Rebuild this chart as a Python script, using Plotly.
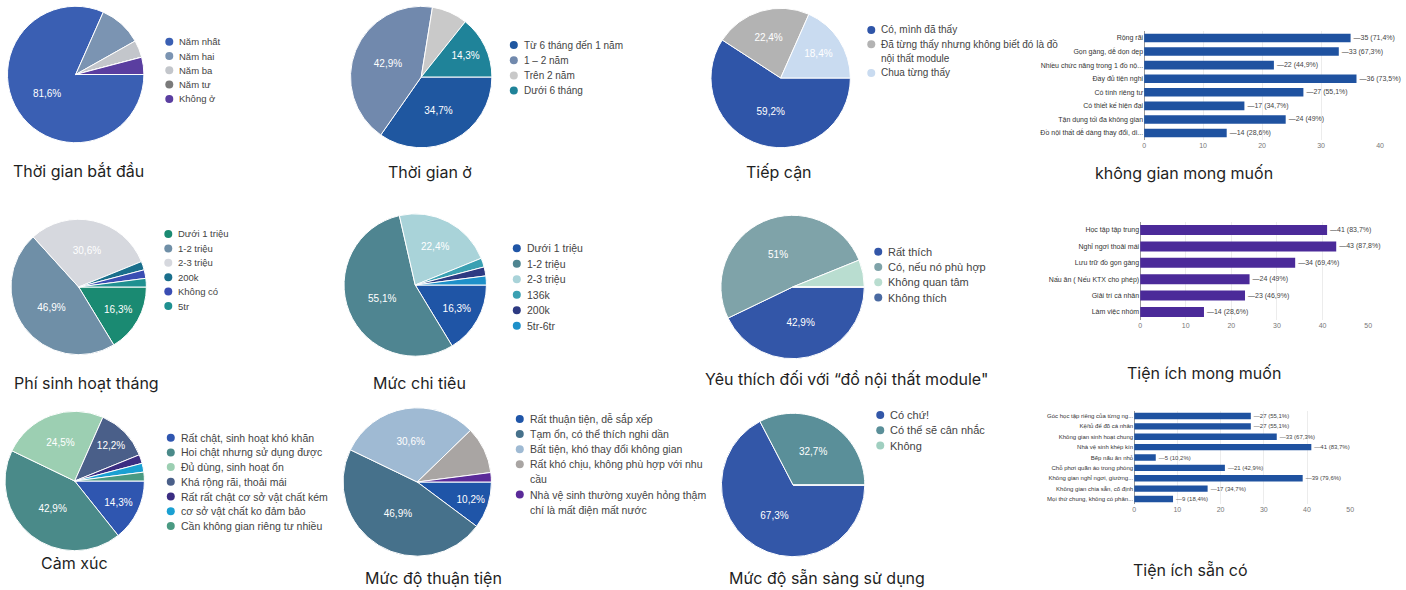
import textwrap
import plotly.graph_objects as go

W, H = 1406, 590
RESPONDENTS = 49

# ---------------- data ----------------
start_labels = ["Năm nhất", "Năm hai", "Năm ba", "Năm tư", "Không ở"]
start_counts = [40, 5, 2, 0, 2]

stay_labels = ["Từ 6 tháng đến 1 năm", "1 – 2 năm", "Trên 2 năm", "Dưới 6 tháng"]
stay_counts = [17, 21, 4, 7]

access_labels = ["Có, mình đã thấy",
                 "Đã từng thấy nhưng không biết đó là đồ nội thất module",
                 "Chua từng thấy"]
access_counts = [29, 11, 9]

fee_labels = ["Dưới 1 triệu", "1-2 triệu", "2-3 triệu", "200k", "Không có", "5tr"]
fee_counts = [8, 23, 15, 1, 1, 1]

spend_labels = ["Dưới 1 triệu", "1-2 triệu", "2-3 triệu", "136k", "200k", "5tr-6tr"]
spend_counts = [8, 27, 11, 1, 1, 1]

like_labels = ["Rất thích", "Có, nếu nó phù hợp", "Không quan tâm", "Không thích"]
like_counts = [21, 25, 3, 0]

feel_labels = ["Rất chật, sinh hoạt khó khăn", "Hoi chật nhưng sử dụng được",
               "Đủ dùng, sinh hoạt ổn", "Khá rộng rãi, thoải mái",
               "Rất rất chật cơ sở vật chất kém", "cơ sở vật chất ko đảm bảo",
               "Cần không gian riêng tư nhiều"]
feel_counts = [7, 21, 12, 6, 1, 1, 1]

conv_labels = ["Rất thuận tiện, dễ sắp xếp", "Tạm ổn, có thể thích nghi dần",
               "Bất tiện, khó thay đổi không gian",
               "Rất khó chịu, không phù hợp với nhu cầu",
               "Nhà vệ sinh thường xuyên hỏng thậm chí là mất điện mất nước"]
conv_counts = [5, 23, 15, 5, 1]

ready_labels = ["Có chứ!", "Có thể sẽ cân nhắc", "Không"]
ready_counts = [33, 16, 0]

space_labels = ["Rộng rãi", "Gọn gàng, dễ dọn dẹp", "Nhiều chức năng trong 1 đồ nộ...",
                "Đầy đủ tiện nghi", "Có tính riêng tư", "Có thiết kế hiện đại",
                "Tận dụng tối đa không gian", "Đồ nội thất dễ dàng thay đổi, di..."]
space_counts = [35, 33, 22, 36, 27, 17, 24, 14]

want_labels = ["Học tập tập trung", "Nghỉ ngơi thoải mái", "Lưu trữ đồ gọn gàng",
               "Nấu ăn ( Nếu KTX cho phép)", "Giải trí cá nhân", "Làm việc nhóm"]
want_counts = [41, 43, 34, 24, 23, 14]

have_labels = ["Góc học tập riêng của từng ng...", "Kệ/tủ để đồ cá nhân",
               "Không gian sinh hoạt chung", "Nhà vệ sinh khép kín", "Bếp nấu ăn nhỏ",
               "Chỗ phơi quần áo trong phòng", "Không gian nghỉ ngơi, giường...",
               "Không gian chia sẵn, cố định", "Mọi thứ chung, không có phân..."]
have_counts = [27, 27, 33, 41, 5, 21, 39, 17, 9]

x_ticks_40 = [0, 10, 20, 30, 40]
x_ticks_50 = [0, 10, 20, 30, 40, 50]


def pct(v, total):
    s = f"{round(v / total * 100, 1):.1f}".replace(".", ",")
    if s.endswith(",0"):
        s = s[:-2]
    return s + "%"


def px(x):
    return x / W


def py(y):
    return 1 - y / H


TITLE_FONT = "Inter"
TXT_FONT = "Liberation Sans"

fig = go.Figure()
shapes = []
annotations = []

# ---------------- pies ----------------
# "hide": slices whose percentage label is not printed inside the pie
pies = [
    dict(labels=start_labels, counts=start_counts,
         colors=["#3a5fb3", "#7b94b2", "#c3c6cb", "#7a7a7a", "#5a3ea0"],
         cx=74, cy=74.5, r=68.5, hide={1},
         leg=dict(x=168, y=41.7, sp=14.3, fs=9.5, wrap=60),
         title="Thời gian bắt đầu", tx=76.5, ty=171),
    dict(labels=stay_labels, counts=stay_counts,
         colors=["#1f57a0", "#7189ad", "#c9c9c9", "#1f8399"],
         cx=421, cy=77, r=71, hide=set(),
         leg=dict(x=514, y=45, sp=15.2, fs=10, wrap=60),
         title="Thời gian ở", tx=430, ty=172),
    dict(labels=access_labels, counts=access_counts,
         colors=["#2f55a8", "#b3b3b3", "#c9dbf0"],
         cx=782, cy=78, r=70, hide=set(),
         leg=dict(x=873, y=30, sp=14.3, fs=10, wrap=38),
         title="Tiếp cận", tx=780.5, ty=172),
    dict(labels=fee_labels, counts=fee_counts,
         colors=["#1a8a72", "#6f8fa7", "#d6d8de", "#1a6f8c", "#3a4db3", "#1f9090"],
         cx=77, cy=287, r=68, hide=set(),
         leg=dict(x=167, y=234, sp=14.4, fs=9.5, wrap=60),
         title="Phí sinh hoạt tháng", tx=85, ty=383),
    dict(labels=spend_labels, counts=spend_counts,
         colors=["#1f55a6", "#4f8591", "#a9d3d9", "#3aa0b2", "#2d3a82", "#1e90c9"],
         cx=415, cy=285, r=71.5, hide=set(),
         leg=dict(x=517, y=248.3, sp=15.5, fs=10.5, wrap=60),
         title="Mức chi tiêu", tx=419.5, ty=383),
    dict(labels=like_labels, counts=like_counts,
         colors=["#3356a8", "#7fa3a9", "#b9ddd0", "#4a6aa2"],
         cx=794, cy=287, r=72, hide=set(),
         leg=dict(x=880, y=251.7, sp=15.3, fs=11, wrap=60),
         title="Yêu thích đối với “đồ nội thất module\"", tx=848, ty=379),
    dict(labels=feel_labels, counts=feel_counts,
         colors=["#2f56b0", "#4a8a89", "#9ccfb2", "#4a5f89", "#3b2d82", "#1aa0d2", "#4a9a82"],
         cx=73, cy=481, r=70, hide=set(),
         leg=dict(x=169.5, y=437.7, sp=14.7, fs=10.5, wrap=60),
         title="Cảm xúc", tx=72.5, ty=563),
    dict(labels=conv_labels, counts=conv_counts,
         colors=["#1f55a8", "#46718b", "#9fbad3", "#a9a5a3", "#5a2a99"],
         cx=417, cy=482, r=74.5, hide={3},
         leg=dict(x=520, y=419, sp=15.1, fs=10.5, wrap=35),
         title="Mức độ thuận tiện", tx=433, ty=578),
    dict(labels=ready_labels, counts=ready_counts,
         colors=["#3357a8", "#5a8f99", "#a0cfc0"],
         cx=794.5, cy=485, r=72, hide=set(),
         leg=dict(x=882, y=415, sp=15.3, fs=11, wrap=60),
         title="Mức độ sẵn sàng sử dụng", tx=828.5, ty=578),
]

MIN_LABEL_PCT = 10

for p in pies:
    total = sum(p["counts"])
    texts = [pct(v, total) if (v / total * 100 >= MIN_LABEL_PCT and k not in p["hide"]) else ""
             for k, v in enumerate(p["counts"])]
    fig.add_trace(go.Pie(
        labels=p["labels"], values=p["counts"], text=texts, textinfo="text",
        textposition="inside", insidetextorientation="horizontal",
        insidetextfont=dict(color="white", size=10, family=TXT_FONT),
        sort=False, direction="clockwise", rotation=90,
        marker=dict(colors=p["colors"], line=dict(color="white", width=1)),
        domain=dict(x=[px(p["cx"] - p["r"]), px(p["cx"] + p["r"])],
                    y=[py(p["cy"] + p["r"]), py(p["cy"] - p["r"])]),
        showlegend=False, hoverinfo="label+percent",
    ))
    # legend (circle markers + text)
    lg = p["leg"]
    line = 0
    for lab, col in zip(p["labels"], p["colors"]):
        my = lg["y"] + line * lg["sp"]
        shapes.append(dict(type="circle", xref="paper", yref="paper",
                           xsizemode="pixel", ysizemode="pixel",
                           xanchor=px(lg["x"]), yanchor=py(my),
                           x0=-4, x1=4, y0=-4, y1=4,
                           fillcolor=col, line=dict(width=0)))
        for part in textwrap.wrap(lab, lg["wrap"]):
            annotations.append(dict(
                x=px(lg["x"] + 8), y=py(lg["y"] + line * lg["sp"]),
                xref="paper", yref="paper", xanchor="left", yanchor="middle",
                text=part, showarrow=False,
                font=dict(size=lg["fs"], color="#444444", family=TXT_FONT)))
            line += 1
    annotations.append(dict(x=px(p["tx"]), y=py(p["ty"]), xref="paper", yref="paper",
                            xanchor="center", yanchor="middle", text=p["title"],
                            showarrow=False,
                            font=dict(size=16, color="#1f1f1f", family=TITLE_FONT)))

# ---------------- bar charts ----------------
bars = [
    dict(labels=space_labels, counts=space_counts, color="#1f52a0",
         x0=1147, x1=1384, top=31.2, bottom=139.8, rng=40, ticks=x_ticks_40,
         fs=7, gap=0.37, title="không gian mong muốn", tx=1187.5, ty=173),
    dict(labels=want_labels, counts=want_counts, color="#4b2a99",
         x0=1143, x1=1372, top=221.8, bottom=320.2, rng=50, ticks=x_ticks_50,
         fs=7, gap=0.39, title="Tiện ích mong muốn", tx=1207.5, ty=373),
    dict(labels=have_labels, counts=have_counts, color="#1f52a0",
         x0=1137, x1=1354, top=410.8, bottom=504.2, rng=50, ticks=x_ticks_50,
         fs=6, gap=0.39, title="Tiện ích sẵn có", tx=1194, ty=570),
]

for i, b in enumerate(bars):
    sfx = "" if i == 0 else str(i + 1)
    texts = [f"—{v} ({pct(v, RESPONDENTS)})" for v in b["counts"]]
    fig.add_trace(go.Bar(
        x=b["counts"], y=b["labels"], orientation="h", width=1 - b["gap"],
        marker=dict(color=b["color"], line=dict(width=0)),
        text=texts, textposition="outside", cliponaxis=False, constraintext="none",
        textfont=dict(size=b["fs"], color="#444444", family=TXT_FONT),
        xaxis="x" + sfx, yaxis="y" + sfx, showlegend=False, hoverinfo="x+y",
    ))
    fig.update_layout(**{
        "xaxis" + sfx: dict(domain=[px(b["x0"]), px(b["x1"])], range=[0, b["rng"]],
                            tickvals=b["ticks"], showgrid=True, gridcolor="#ececec",
                            zeroline=True, zerolinecolor="#999999", zerolinewidth=1,
                            tickfont=dict(size=7, color="#777777", family=TXT_FONT),
                            anchor="y" + sfx, fixedrange=True),
        "yaxis" + sfx: dict(domain=[py(b["bottom"]), py(b["top"])],
                            autorange="reversed", type="category",
                            tickfont=dict(size=b["fs"], color="#333333", family=TXT_FONT),
                            anchor="x" + sfx, showgrid=False, ticks="",
                            automargin=False, fixedrange=True),
    })
    annotations.append(dict(x=px(b["tx"]), y=py(b["ty"]), xref="paper", yref="paper",
                            xanchor="center", yanchor="middle", text=b["title"],
                            showarrow=False,
                            font=dict(size=16, color="#1f1f1f", family=TITLE_FONT)))

fig.update_layout(
    width=W, height=H, margin=dict(l=0, r=0, t=0, b=0),
    paper_bgcolor="white", plot_bgcolor="white",
    shapes=shapes, annotations=annotations,
    showlegend=False,
)

fig.write_html("out.html")
